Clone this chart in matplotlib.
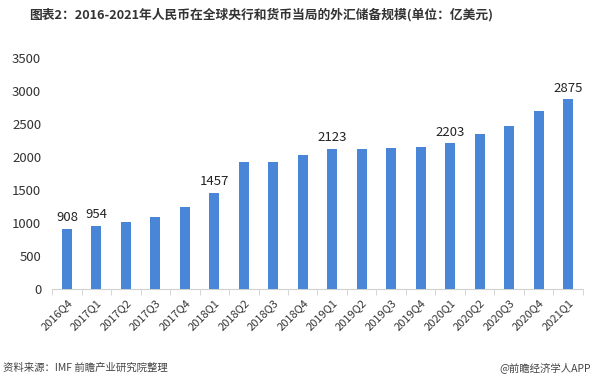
import matplotlib
matplotlib.use('Agg')
import matplotlib.pyplot as plt
import matplotlib.transforms as mtransforms

plt.rcParams['font.family'] = ['Noto Sans CJK SC', 'DejaVu Sans']

quarters = ['2016Q4', '2017Q1', '2017Q2', '2017Q3', '2017Q4', '2018Q1',
            '2018Q2', '2018Q3', '2018Q4', '2019Q1', '2019Q2', '2019Q3',
            '2019Q4', '2020Q1', '2020Q2', '2020Q3', '2020Q4', '2021Q1']
reserves = [908, 954, 1008, 1085, 1235, 1457,
            1928, 1925, 2035, 2123, 2120, 2135,
            2155, 2203, 2340, 2475, 2700, 2875]
labelled = ['2016Q4', '2017Q1', '2018Q1', '2019Q1', '2020Q1', '2021Q1']
y_ticks = [0, 500, 1000, 1500, 2000, 2500, 3000, 3500]

fig = plt.figure(figsize=(5.94, 3.81), dpi=100)
ax = fig.add_axes([0.088, 0.242, 0.893, 0.606])

x = range(len(quarters))
bars = ax.bar(x, reserves, width=0.34, color='#4A86D8', zorder=3)

# value labels only on selected bars
for i, (q, v) in enumerate(zip(quarters, reserves)):
    if q in labelled:
        ax.text(i, v + 70, str(v), ha='center', va='bottom', fontsize=9.5, color='#222222')

ax.set_xlim(-0.5, len(quarters) - 0.5)
ax.set_ylim(0, 3500)
ax.set_yticks(y_ticks)
ax.set_yticklabels([str(t) for t in y_ticks], fontsize=9.5, color='#333333')
ax.set_xticks(list(x))
ax.set_xticklabels(quarters, rotation=45, ha='right', rotation_mode='anchor',
                   fontsize=8, color='#333333')
# nudge the rotated labels a little to the left
shift = mtransforms.ScaledTranslation(-5 / 100, 0, fig.dpi_scale_trans)
for lbl in ax.get_xticklabels():
    lbl.set_transform(lbl.get_transform() + shift)

# boundary tick marks between categories
ax.set_xticks([i - 0.5 for i in range(len(quarters) + 1)], minor=True)
ax.tick_params(axis='x', which='major', length=0, pad=6)
ax.tick_params(axis='x', which='minor', length=4, color='#d0d0d0')
ax.tick_params(axis='y', length=0, pad=8)

for side in ['top', 'right', 'left']:
    ax.spines[side].set_visible(False)
ax.spines['bottom'].set_color('#d0d0d0')

fig.text(0.44, 0.962, '图表2：2016-2021年人民币在全球央行和货币当局的外汇储备规模(单位：亿美元)',
         ha='center', va='center', fontsize=9.2, fontweight='bold', color='#333333')
fig.text(0.005, 0.035, '资料来源：IMF 前瞻产业研究院整理', ha='left', va='center',
         fontsize=7.5, color='#444444')
fig.text(0.995, 0.035, '@前瞻经济学人APP', ha='right', va='center',
         fontsize=7.5, color='#444444')

fig.savefig('out.png', dpi=100)
